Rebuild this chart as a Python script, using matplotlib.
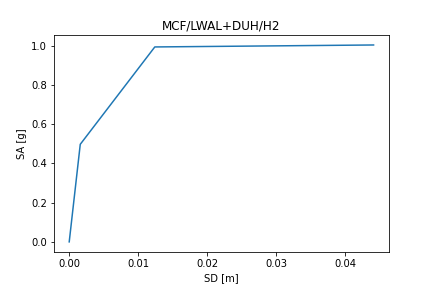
import matplotlib
matplotlib.use("Agg")
import matplotlib.pyplot as plt

# capacity curve points
sd = [0.0, 0.0016, 0.0124, 0.0441]
sa = [0.0, 0.497, 0.993, 1.003]

fig, ax = plt.subplots(figsize=(6, 4), dpi=72)
fig.subplots_adjust(bottom=0.126, top=0.878)
ax.plot(sd, sa)
ax.set_xlabel("SD [m]")
ax.set_ylabel("SA [g]")
ax.set_title("MCF/LWAL+DUH/H2")
fig.savefig("out.png", dpi=72)
